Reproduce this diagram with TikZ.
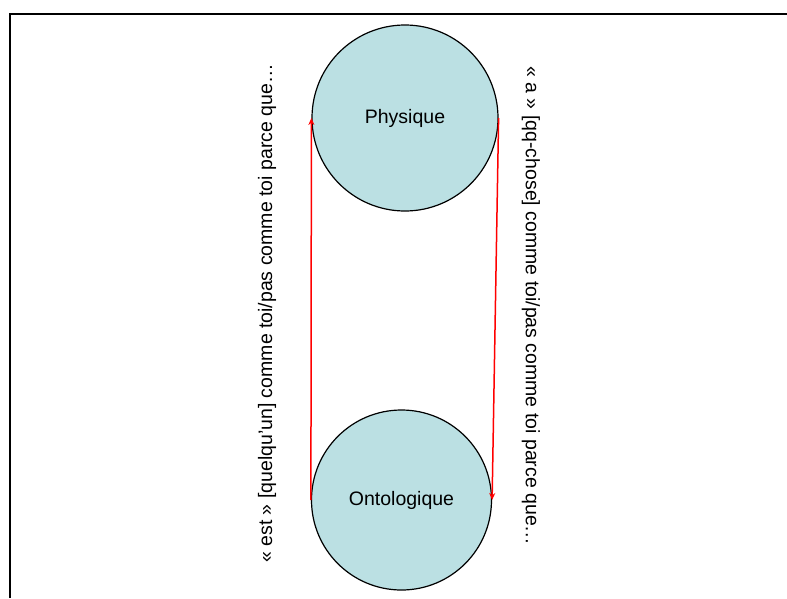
\documentclass[tikz,border=0pt]{standalone}
\usepackage{fontspec}
\setmainfont{Liberation Sans}
\usetikzlibrary{arrows.meta}
\definecolor{pale}{RGB}{187,224,227}
\tikzset{
    planet/.style={circle, draw, line width=1.2pt, fill=pale, inner sep=0pt,
        font=\fontsize{19.5}{23}\selectfont},
    link/.style={red, line width=1.5pt, -{Stealth[length=7pt,width=6pt]}},
    side/.style={font=\fontsize{19.5}{23}\selectfont, inner sep=0pt}
}
\begin{document}
\begin{tikzpicture}[x=1pt,y=-1pt]
    \useasboundingbox (0,0) rectangle (787,598);
    \draw[line width=2pt] (10,598) -- (10,14) -- (787,14);
    \node[planet, minimum size=186pt] (phys) at (405,118) {Physique};
    \node[planet, minimum size=180pt] (onto) at (401.5,500) {Ontologique};
    \draw[link] (onto.west) -- (phys.west);
    \draw[link] (phys.east) -- (onto.east);
    \node[side, rotate=90] (est) at (267,313.5)
        {« est » [quelqu'un] comme toi/pas comme toi parce que…};
    \node[side, rotate=-90] (avoir) at (531,306)
        {« a » [qq-chose] comme toi/pas comme toi parce que…};
\end{tikzpicture}
\end{document}
